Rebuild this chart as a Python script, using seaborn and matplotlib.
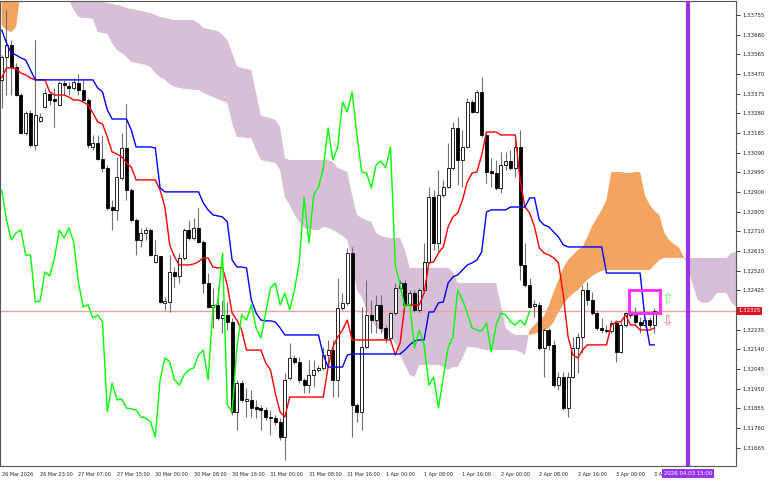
import numpy as np
import matplotlib
matplotlib.use("Agg")
import matplotlib.pyplot as plt
import seaborn as sns
from matplotlib.patches import Rectangle

# GBPUSD-like H1 candles, 26 Mar 15:00 .. 3 Apr 08:00
opens = [
    1.33441, 1.33552, 1.33610, 1.33503, 1.33368, 1.33185, 1.33281, 1.33127, 1.33243, 1.33310,
    1.33373, 1.33349, 1.33320, 1.33426, 1.33412, 1.33402, 1.33426, 1.33392, 1.33344, 1.33117,
    1.33136, 1.33059, 1.33016, 1.32827, 1.32813, 1.32967, 1.33112, 1.32909, 1.32764, 1.32668,
    1.32702, 1.32716, 1.32562, 1.32591, 1.32364, 1.32368, 1.32513, 1.32494, 1.32581, 1.32716,
    1.32677, 1.32726, 1.32658, 1.32460, 1.32344, 1.32354, 1.32291, 1.32306, 1.32272, 1.31837,
    1.31977, 1.31890, 1.31895, 1.31861, 1.31856, 1.31847, 1.31813, 1.31808, 1.31789, 1.31716,
    1.32001, 1.32098, 1.32079, 1.31992, 1.31967, 1.32016, 1.32040, 1.32050, 1.32112, 1.32136,
    1.31992, 1.32339, 1.32364, 1.32605, 1.31871, 1.31837, 1.32151, 1.32306, 1.32281, 1.32354,
    1.32243, 1.32194, 1.32315, 1.32436, 1.32460, 1.32354, 1.32412, 1.32330, 1.32426, 1.32562,
    1.32875, 1.32653, 1.32885, 1.32924, 1.33016, 1.33209, 1.33054, 1.33117, 1.33334, 1.33286,
    1.33383, 1.33175, 1.33001, 1.32991, 1.32919, 1.33030, 1.33049, 1.33016, 1.33117, 1.32547,
    1.32450, 1.32349, 1.32354, 1.32146, 1.32233, 1.32161, 1.31967, 1.32006, 1.31856, 1.32006,
    1.32146, 1.32199, 1.32426, 1.32378, 1.32315, 1.32243, 1.32233, 1.32228, 1.32267, 1.32127,
    1.32257, 1.32315, 1.32306, 1.32272, 1.32257, 1.32281, 1.32257,
]
highs = [
    1.33561, 1.33779, 1.33634, 1.33523, 1.33378, 1.33291, 1.33296, 1.33634, 1.33281, 1.33402,
    1.33378, 1.33402, 1.33436, 1.33441, 1.33431, 1.33450, 1.33470, 1.33441, 1.33354, 1.33175,
    1.33175, 1.33175, 1.33030, 1.32861, 1.33069, 1.33185, 1.33325, 1.32919, 1.32774, 1.32726,
    1.32731, 1.32726, 1.32668, 1.32591, 1.32392, 1.32595, 1.32537, 1.32605, 1.32726, 1.32764,
    1.32774, 1.32822, 1.32668, 1.32508, 1.32436, 1.32441, 1.32378, 1.32368, 1.32291, 1.31992,
    1.31992, 1.31953, 1.31943, 1.31895, 1.31871, 1.31861, 1.31847, 1.31823, 1.31808, 1.32025,
    1.32170, 1.32112, 1.32103, 1.32001, 1.32088, 1.32088, 1.32064, 1.32151, 1.32185, 1.32185,
    1.32484, 1.32412, 1.32629, 1.32634, 1.31881, 1.32344, 1.32475, 1.32378, 1.32402, 1.32402,
    1.32257, 1.32320, 1.32460, 1.32475, 1.32475, 1.32426, 1.32426, 1.32436, 1.32653, 1.32924,
    1.32909, 1.33006, 1.32958, 1.33136, 1.33238, 1.33262, 1.33199, 1.33354, 1.33344, 1.33392,
    1.33455, 1.33189, 1.33064, 1.33054, 1.33093, 1.33093, 1.33102, 1.33151, 1.33199, 1.32653,
    1.32484, 1.32378, 1.32368, 1.32243, 1.32243, 1.32185, 1.32030, 1.32030, 1.32030, 1.32199,
    1.32219, 1.32450, 1.32465, 1.32417, 1.32330, 1.32291, 1.32257, 1.32281, 1.32281, 1.32272,
    1.32320, 1.32330, 1.32344, 1.32296, 1.32291, 1.32296, 1.32339,
]
lows = [
    1.33305, 1.33368, 1.33368, 1.33363, 1.33180, 1.33175, 1.33117, 1.33102, 1.33238, 1.33305,
    1.33320, 1.33214, 1.33315, 1.33368, 1.33368, 1.33392, 1.33368, 1.33339, 1.33112, 1.33102,
    1.33054, 1.32996, 1.32813, 1.32716, 1.32764, 1.32958, 1.32861, 1.32755, 1.32595, 1.32634,
    1.32668, 1.32591, 1.32557, 1.32364, 1.32330, 1.32320, 1.32441, 1.32460, 1.32571, 1.32668,
    1.32668, 1.32653, 1.32412, 1.32339, 1.32243, 1.32281, 1.32219, 1.32233, 1.31823, 1.31750,
    1.31885, 1.31813, 1.31813, 1.31808, 1.31750, 1.31798, 1.31726, 1.31774, 1.31702, 1.31605,
    1.31992, 1.32069, 1.31977, 1.31929, 1.31929, 1.31958, 1.32030, 1.32040, 1.32054, 1.31909,
    1.31909, 1.32330, 1.32354, 1.31716, 1.31789, 1.31750, 1.32146, 1.32219, 1.32219, 1.32219,
    1.32170, 1.32185, 1.32306, 1.32426, 1.32349, 1.32349, 1.32320, 1.32320, 1.32412, 1.32557,
    1.32619, 1.32605, 1.32875, 1.32919, 1.33006, 1.32933, 1.32924, 1.33112, 1.33281, 1.33281,
    1.33165, 1.32943, 1.32924, 1.32909, 1.32895, 1.33006, 1.33006, 1.32972, 1.32475, 1.32441,
    1.32339, 1.32296, 1.32136, 1.32006, 1.32136, 1.31958, 1.31943, 1.31847, 1.31813, 1.32001,
    1.32025, 1.32122, 1.32354, 1.32306, 1.32233, 1.32219, 1.32219, 1.32219, 1.32079, 1.32122,
    1.32248, 1.32291, 1.32257, 1.32219, 1.32248, 1.32243, 1.32219,
]
closes = [
    1.33552, 1.33610, 1.33503, 1.33368, 1.33185, 1.33281, 1.33127, 1.33272, 1.33262, 1.33378,
    1.33344, 1.33339, 1.33426, 1.33416, 1.33402, 1.33431, 1.33392, 1.33344, 1.33127, 1.33136,
    1.33059, 1.33016, 1.32822, 1.32813, 1.32972, 1.33112, 1.32909, 1.32764, 1.32668, 1.32702,
    1.32716, 1.32595, 1.32595, 1.32368, 1.32373, 1.32513, 1.32494, 1.32581, 1.32716, 1.32677,
    1.32726, 1.32658, 1.32460, 1.32344, 1.32354, 1.32291, 1.32306, 1.32272, 1.31837, 1.31977,
    1.31895, 1.31900, 1.31856, 1.31852, 1.31847, 1.31813, 1.31808, 1.31789, 1.31716, 1.31992,
    1.32098, 1.32079, 1.31992, 1.31967, 1.32016, 1.32040, 1.32050, 1.32112, 1.32136, 1.31992,
    1.32339, 1.32364, 1.32605, 1.31871, 1.31837, 1.32151, 1.32306, 1.32281, 1.32354, 1.32243,
    1.32194, 1.32315, 1.32436, 1.32460, 1.32354, 1.32412, 1.32330, 1.32426, 1.32562, 1.32875,
    1.32653, 1.32885, 1.32924, 1.33016, 1.33209, 1.33054, 1.33117, 1.33334, 1.33286, 1.33383,
    1.33175, 1.32996, 1.32991, 1.32919, 1.33030, 1.33049, 1.33016, 1.33117, 1.32547, 1.32450,
    1.32344, 1.32359, 1.32146, 1.32233, 1.32161, 1.31967, 1.32006, 1.31856, 1.32006, 1.32146,
    1.32199, 1.32426, 1.32378, 1.32315, 1.32243, 1.32233, 1.32228, 1.32267, 1.32127, 1.32257,
    1.32315, 1.32306, 1.32272, 1.32257, 1.32281, 1.32257, 1.32325,
]

# Ichimoku lines (Tenkan red, Kijun blue), one value per candle
tenkan = [
    1.33450, 1.33499, 1.33499, 1.33494, 1.33474, 1.33465, 1.33450, 1.33441, 1.33441, 1.33441,
    1.33383, 1.33368, 1.33368, 1.33368, 1.33358, 1.33344, 1.33344, 1.33334, 1.33320, 1.33281,
    1.33238, 1.33228, 1.33165, 1.33093, 1.33083, 1.33069, 1.33040, 1.33020, 1.32958, 1.32958,
    1.32958, 1.32958, 1.32958, 1.32909, 1.32827, 1.32644, 1.32586, 1.32547, 1.32547, 1.32547,
    1.32552, 1.32562, 1.32581, 1.32581, 1.32537, 1.32533, 1.32533, 1.32450, 1.32315, 1.32281,
    1.32233, 1.32136, 1.32136, 1.32136, 1.32136, 1.32074, 1.32040, 1.31929, 1.31837, 1.31813,
    1.31909, 1.31909, 1.31909, 1.31909, 1.31909, 1.31909, 1.31909, 1.31909, 1.32054, 1.32151,
    1.32199, 1.32233, 1.32281, 1.32185, 1.32185, 1.32185, 1.32185, 1.32185, 1.32185, 1.32185,
    1.32185, 1.32185, 1.32112, 1.32170, 1.32354, 1.32354, 1.32354, 1.32354, 1.32412, 1.32557,
    1.32562, 1.32605, 1.32634, 1.32731, 1.32779, 1.32798, 1.32861, 1.32948, 1.32991, 1.32996,
    1.33078, 1.33189, 1.33189, 1.33189, 1.33175, 1.33175, 1.33175, 1.33175, 1.32958, 1.32827,
    1.32798, 1.32731, 1.32629, 1.32605, 1.32595, 1.32581, 1.32557, 1.32402, 1.32199, 1.32112,
    1.32098, 1.32136, 1.32161, 1.32161, 1.32161, 1.32161, 1.32161, 1.32257, 1.32272, 1.32272,
    1.32306, 1.32257, 1.32257, 1.32233, 1.32233, 1.32233, 1.32243,
]
kijun = [
    1.33682, 1.33619, 1.33571, 1.33561, 1.33547, 1.33537, 1.33489, 1.33441, 1.33441, 1.33441,
    1.33441, 1.33441, 1.33441, 1.33441, 1.33441, 1.33441, 1.33441, 1.33441, 1.33441, 1.33441,
    1.33402, 1.33383, 1.33296, 1.33252, 1.33252, 1.33252, 1.33252, 1.33199, 1.33117, 1.33117,
    1.33117, 1.33117, 1.33112, 1.32919, 1.32900, 1.32900, 1.32900, 1.32900, 1.32900, 1.32900,
    1.32900, 1.32900, 1.32847, 1.32813, 1.32789, 1.32784, 1.32779, 1.32755, 1.32571, 1.32537,
    1.32537, 1.32533, 1.32378, 1.32315, 1.32281, 1.32277, 1.32277, 1.32272, 1.32243, 1.32209,
    1.32209, 1.32209, 1.32209, 1.32209, 1.32209, 1.32209, 1.32209, 1.32112, 1.32054, 1.32054,
    1.32054, 1.32054, 1.32112, 1.32117, 1.32117, 1.32117, 1.32117, 1.32117, 1.32117, 1.32117,
    1.32117, 1.32117, 1.32117, 1.32117, 1.32136, 1.32161, 1.32180, 1.32185, 1.32185, 1.32320,
    1.32320, 1.32364, 1.32368, 1.32460, 1.32489, 1.32499, 1.32523, 1.32547, 1.32557, 1.32571,
    1.32610, 1.32803, 1.32813, 1.32813, 1.32813, 1.32813, 1.32827, 1.32827, 1.32827, 1.32827,
    1.32871, 1.32871, 1.32764, 1.32740, 1.32731, 1.32706, 1.32682, 1.32644, 1.32634, 1.32634,
    1.32634, 1.32634, 1.32634, 1.32634, 1.32634, 1.32634, 1.32508, 1.32508, 1.32508, 1.32508,
    1.32508, 1.32508, 1.32508, 1.32508, 1.32291, 1.32161, 1.32161,
]
# Senkou spans, already shifted 26 bars ahead (17 bars run past the last candle)
senkou_a = [
    1.34117, 1.34117, 1.34117, 1.34093, 1.34020, 1.33972, 1.33948, 1.33924, 1.33899, 1.33885,
    1.33875, 1.33866, 1.33856, 1.33851, 1.33827, 1.33779, 1.33745, 1.33740, 1.33740, 1.33735,
    1.33672, 1.33668, 1.33663, 1.33619, 1.33585, 1.33571, 1.33552, 1.33528, 1.33523, 1.33518,
    1.33513, 1.33503, 1.33474, 1.33455, 1.33441, 1.33421, 1.33407, 1.33402, 1.33397, 1.33397,
    1.33392, 1.33392, 1.33378, 1.33368, 1.33358, 1.33349, 1.33339, 1.33330, 1.33233, 1.33165,
    1.33165, 1.33160, 1.33160, 1.33102, 1.33054, 1.33049, 1.33045, 1.33040, 1.33006, 1.32875,
    1.32837, 1.32789, 1.32755, 1.32726, 1.32721, 1.32716, 1.32716, 1.32731, 1.32726, 1.32716,
    1.32702, 1.32687, 1.32668, 1.32571, 1.32426, 1.32392, 1.32330, 1.32281, 1.32248, 1.32228,
    1.32219, 1.32199, 1.32170, 1.32112, 1.32064, 1.32016, 1.32006, 1.32064, 1.32064, 1.32064,
    1.32064, 1.32064, 1.32054, 1.32040, 1.32054, 1.32054, 1.32098, 1.32151, 1.32151, 1.32146,
    1.32141, 1.32136, 1.32136, 1.32136, 1.32136, 1.32136, 1.32136, 1.32136, 1.32127, 1.32112,
    1.32233, 1.32257, 1.32281, 1.32301, 1.32354, 1.32417, 1.32475, 1.32533, 1.32571, 1.32595,
    1.32619, 1.32634, 1.32682, 1.32735, 1.32774, 1.32813, 1.32861, 1.32996, 1.32996, 1.32996,
    1.32991, 1.32991, 1.32996, 1.32996, 1.32885, 1.32837, 1.32808, 1.32789, 1.32706, 1.32668,
    1.32648, 1.32634, 1.32591, 1.32533, 1.32450, 1.32378, 1.32364, 1.32364, 1.32378, 1.32412,
    1.32412, 1.32412, 1.32368, 1.32344,
]
senkou_b = [
    1.33706, 1.33682, 1.33672, 1.33697, 1.33875, 1.33924, 1.33972, 1.33996, 1.33996, 1.33972,
    1.33948, 1.33924, 1.33899, 1.33885, 1.33875, 1.33866, 1.33851, 1.33841, 1.33827, 1.33827,
    1.33827, 1.33817, 1.33813, 1.33808, 1.33803, 1.33798, 1.33788, 1.33784, 1.33779, 1.33774,
    1.33769, 1.33764, 1.33755, 1.33745, 1.33740, 1.33735, 1.33730, 1.33730, 1.33730, 1.33730,
    1.33730, 1.33716, 1.33692, 1.33687, 1.33682, 1.33677, 1.33658, 1.33634, 1.33571, 1.33508,
    1.33499, 1.33494, 1.33489, 1.33378, 1.33267, 1.33262, 1.33257, 1.33247, 1.33214, 1.33064,
    1.33054, 1.33054, 1.33054, 1.33054, 1.33054, 1.33054, 1.33054, 1.33054, 1.33054, 1.33045,
    1.33016, 1.33006, 1.32996, 1.32885, 1.32789, 1.32774, 1.32764, 1.32755, 1.32702, 1.32687,
    1.32682, 1.32677, 1.32677, 1.32677, 1.32619, 1.32533, 1.32533, 1.32533, 1.32533, 1.32533,
    1.32533, 1.32533, 1.32533, 1.32533, 1.32513, 1.32460, 1.32460, 1.32460, 1.32460, 1.32460,
    1.32460, 1.32460, 1.32460, 1.32460, 1.32354, 1.32243, 1.32223, 1.32209, 1.32209, 1.32209,
    1.32209, 1.32214, 1.32223, 1.32233, 1.32243, 1.32272, 1.32320, 1.32354, 1.32388, 1.32407,
    1.32426, 1.32450, 1.32475, 1.32494, 1.32508, 1.32518, 1.32523, 1.32523, 1.32523, 1.32523,
    1.32523, 1.32523, 1.32523, 1.32523, 1.32523, 1.32523, 1.32547, 1.32571, 1.32581, 1.32581,
    1.32581, 1.32581, 1.32581, 1.32581, 1.32581, 1.32581, 1.32581, 1.32581, 1.32581, 1.32581,
    1.32581, 1.32581, 1.32605, 1.32610,
]
chikou_shift = 26
bid_price = 1.32325

price_ticks = [1.33755, 1.33660, 1.33565, 1.33470, 1.33375, 1.33280, 1.33185, 1.33090,
               1.32995, 1.32900, 1.32805, 1.32710, 1.32615, 1.32520, 1.32425, 1.32235,
               1.32140, 1.32045, 1.31950, 1.31855, 1.31760, 1.31665]
time_ticks = list(range(0, 137, 8))
time_labels = ["26 Mar 2026", "26 Mar 23:00", "27 Mar 07:00", "27 Mar 15:00",
               "30 Mar 00:00", "30 Mar 08:00", "30 Mar 16:00", "31 Mar 00:00",
               "31 Mar 08:00", "31 Mar 16:00", "1 Apr 00:00", "1 Apr 08:00",
               "1 Apr 16:00", "2 Apr 00:00", "2 Apr 08:00", "2 Apr 16:00",
               "3 Apr 00:00", "3 Apr 08:00"]
vline_bar = 143
vline_label = "2026.04.03 15:00"
# magenta zone box and signal arrows
box_bars = (130.7, 137.1)
box_prices = (1.32315, 1.32426)
arrow_bar = 138.6
arrow_up_price = 1.32383
arrow_down_price = 1.32281

sns.set_style("white")
plt.rcParams["font.family"] = ["DejaVu Sans"]

o = np.array(opens); h = np.array(highs); l = np.array(lows); c = np.array(closes)
bars = np.arange(len(c))
span_x = np.arange(len(senkou_a))
sa = np.array(senkou_a); sb = np.array(senkou_b)

fig = plt.figure(figsize=(7.68, 4.8), dpi=100)
ax = fig.add_axes([0, 14 / 480, 736 / 768, 465 / 480])

# cloud
ax.fill_between(span_x, sa, sb, where=sa >= sb, interpolate=True,
                color="#F4A460", lw=0, zorder=1)
ax.fill_between(span_x, sa, sb, where=sa < sb, interpolate=True,
                color="#D8BFD8", lw=0, zorder=1)

ax.axhline(bid_price, color="#F0A0A0", lw=1, zorder=2)

# candles
up = c >= o
ax.vlines(bars, l, h, color="#707070", lw=0.8, zorder=3)
body = np.maximum(np.abs(c - o), 0.00002)
ax.bar(bars, body, bottom=np.minimum(o, c), width=0.62,
       color=np.where(up, "white", "black"), edgecolor="black", lw=0.6, zorder=4)

# ichimoku lines
sns.lineplot(x=bars, y=tenkan, color="red", lw=1, ax=ax, zorder=5)
sns.lineplot(x=bars, y=kijun, color="blue", lw=1, ax=ax, zorder=5)
sns.lineplot(x=bars[:len(c) - chikou_shift], y=c[chikou_shift:], color="#00FF00",
             lw=1, ax=ax, zorder=5)

ax.axvline(vline_bar, color="#9933EE", lw=3, zorder=6)
ax.add_patch(Rectangle((box_bars[0], box_prices[0]), box_bars[1] - box_bars[0],
                       box_prices[1] - box_prices[0], fill=False,
                       edgecolor="#FF33FF", lw=2.2, zorder=7))
ax.text(arrow_bar, arrow_up_price, "\u21e7", color="#66EE66", fontsize=10,
        ha="center", va="center", zorder=7)
ax.text(arrow_bar, arrow_down_price, "\u21e9", color="#FF7070", fontsize=10,
        ha="center", va="center", zorder=7)

ax.set_xlim(-0.354, 152.98)
ax.set_ylim(1.31576, 1.33822)

ax.yaxis.tick_right()
ax.set_yticks(price_ticks)
ax.set_yticklabels([f"{p:.5f}" for p in price_ticks])
ax.tick_params(axis="y", length=3, width=0.6, labelsize=3.9, pad=1.5,
               colors="#222222")
ax.set_xticks(time_ticks)
ax.set_xticklabels(time_labels, ha="left")
ax.tick_params(axis="x", length=3, width=0.6, labelsize=3.5, pad=1.5,
               colors="#222222")
ax.set_xlabel(""); ax.set_ylabel("")
for s in ax.spines.values():
    s.set_color("#555555"); s.set_linewidth(0.8)

ax.text(1.003, bid_price, f"{bid_price:.5f}", transform=ax.get_yaxis_transform(),
        ha="left", va="center", fontsize=3.9, color="white", zorder=8,
        bbox=dict(boxstyle="square,pad=0.3", fc="#E0141E", ec="none"), clip_on=False)
ax.text(vline_bar, -0.0155, vline_label, transform=ax.get_xaxis_transform(),
        ha="center", va="center", fontsize=3.9, color="white", zorder=8,
        bbox=dict(boxstyle="square,pad=0.35", fc="#9933EE", ec="none"), clip_on=False)

fig.savefig("out.png", dpi=100)
